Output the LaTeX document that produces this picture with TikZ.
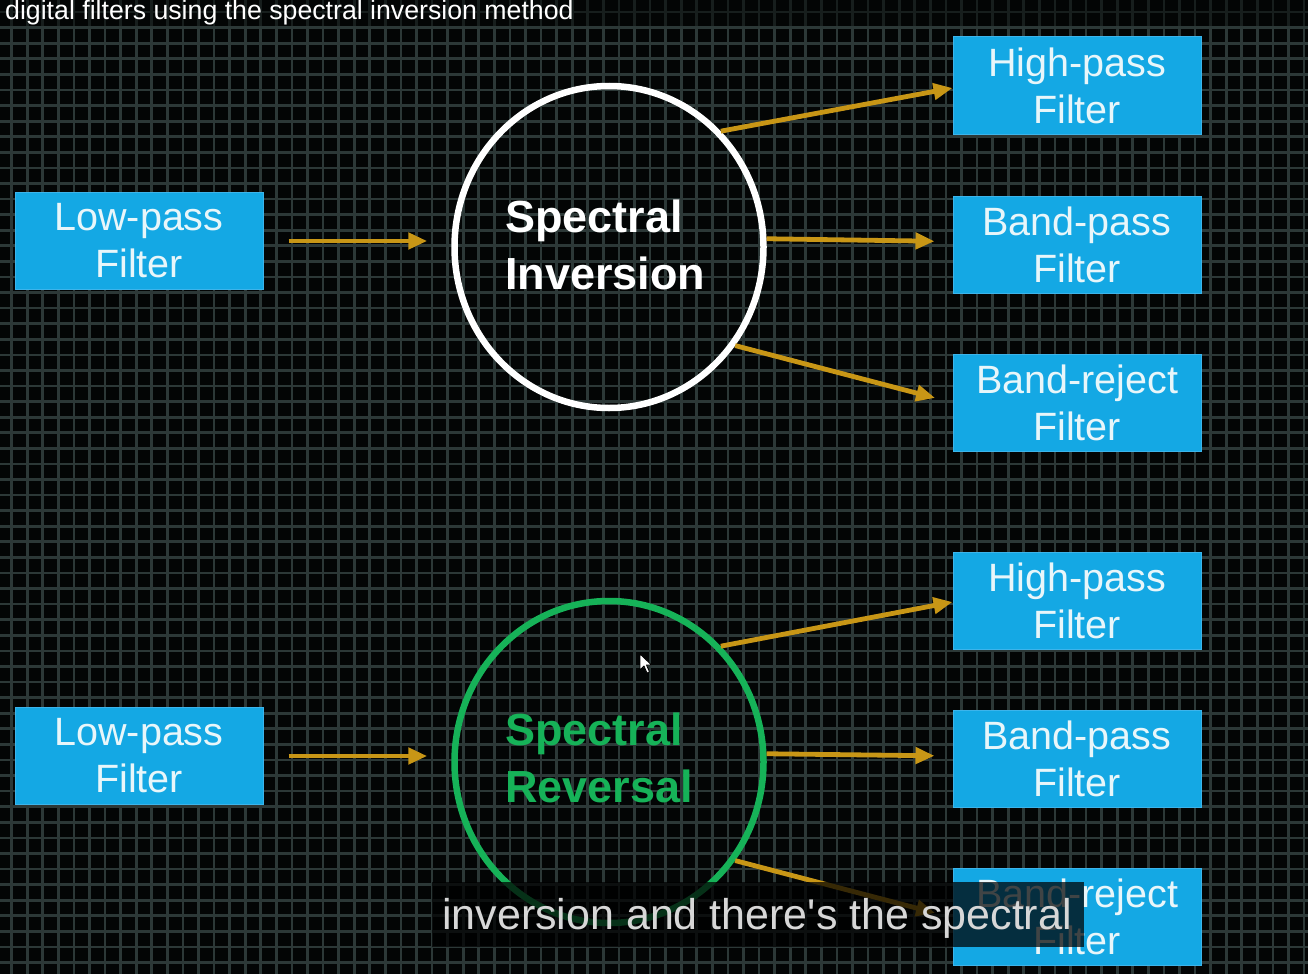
\documentclass[tikz,border=0pt]{standalone}
\usepackage{fontspec}
\setmainfont{Liberation Sans}
\newfontfamily\capfont[Ligatures=TeXOff]{Liberation Sans}
\usetikzlibrary{arrows.meta,shapes.geometric}
\definecolor{bg}{RGB}{3,5,5}
\definecolor{gridc}{RGB}{44,56,55}
\definecolor{boxblue}{RGB}{20,168,228}
\definecolor{boxedge}{RGB}{60,180,235}
\definecolor{boxtext}{RGB}{232,246,250}
\definecolor{gold}{RGB}{200,150,22}
\definecolor{srgreen}{RGB}{22,178,88}
\definecolor{captext}{RGB}{215,215,215}
\tikzset{
  filterbox/.style={draw=boxedge, line width=1pt, fill=boxblue, minimum width=248pt, minimum height=97pt,
    inner sep=0pt, align=center, text=boxtext, font=\fontsize{39.5}{47}\selectfont},
  ring/.style={ellipse, line width=6.5pt, minimum width=309pt, minimum height=322pt, inner sep=0pt},
  ringlabel/.style={anchor=west, align=left, inner sep=0pt, font=\bfseries\fontsize{45}{57}\selectfont},
  goldarrow/.style={draw=gold, line width=4.8pt, -{Triangle[length=19pt,width=16pt]}},
}
\begin{document}
\begin{tikzpicture}[x=1pt,y=-1pt]
\useasboundingbox (0,0) rectangle (1308,974);
\fill[bg] (0,0) rectangle (1308,974);
% grid
\foreach \i in {0,...,84} {
  \draw[gridc, line width=2.7pt] ({11.7+15.57*\i},0) -- ({11.7+15.57*\i},974);
}
\foreach \j in {0,...,62} {
  \draw[gridc, line width=2.7pt] (0,{12.1+15.58*\j}) -- (1308,{12.1+15.58*\j});
}
\fill[bg,opacity=0.5] (0,0) rectangle (1308,26);
\node[anchor=base west, text=white, inner sep=0pt, font=\fontsize{26.7}{30}\selectfont] (title) at (5,20) {digital filters using the spectral inversion method};

% upper group
\node[filterbox] (lp1) at (139,241) {Low-pass\\Filter};
\node[ring, draw=white] (ci1) at (609,247) {};
\node[ringlabel, text=white] (t1) at (505,245) {Spectral\\Inversion};
\node[filterbox] (hp1) at (1077,85.5) {High-pass\\Filter};
\node[filterbox] (bp1) at (1077,244.5) {Band-pass\\Filter};
\node[filterbox] (br1) at (1077,402.5) {Band-reject\\Filter};

\draw[goldarrow, shorten <=25pt, shorten >=24pt] (lp1.east) -- (lp1.east -| ci1.west);
\draw[goldarrow] (ci1.46) -- ([yshift=-2.5pt]hp1.west);
\draw[goldarrow, shorten >=18pt] (ci1.3) -- ([yshift=3pt]bp1.west);
\draw[goldarrow, shorten >=18pt] (ci1.-38.6) -- (br1.west);

% lower group
\node[filterbox] (lp2) at (139,756) {Low-pass\\Filter};
\node[ring, draw=srgreen] (ci2) at (609,762) {};
\node[ringlabel, text=srgreen] (t2) at (505,758) {Spectral\\Reversal};
\node[filterbox] (hp2) at (1077,601) {High-pass\\Filter};
\node[filterbox] (bp2) at (1077,758.5) {Band-pass\\Filter};
\node[filterbox] (br2) at (1077,916.5) {Band-reject\\Filter};

\draw[goldarrow, shorten <=25pt, shorten >=24pt] (lp2.east) -- (lp2.east -| ci2.west);
\draw[goldarrow] (ci2.46) -- ([yshift=-1pt]hp2.west);
\draw[goldarrow, shorten >=18pt] (ci2.3) -- ([yshift=2.5pt]bp2.west);
\draw[goldarrow, shorten >=18pt] (ci2.-38.6) -- ([yshift=-1pt]br2.west);

% caption
\fill[black, opacity=0.72] (432,882) rectangle (1084,947);
\node[anchor=base west, inner sep=0pt, text=captext, font=\capfont\fontsize{43}{50}\selectfont] (cap) at (442,929) {inversion and there's the spectral};

% cursor
\draw[black, line width=0.8pt, fill=white, line join=round] (640,654) -- (640,670) -- (644,666) -- (647,673) -- (649.5,672) -- (646.5,665) -- (651.5,665) -- cycle;
\end{tikzpicture}
\end{document}
